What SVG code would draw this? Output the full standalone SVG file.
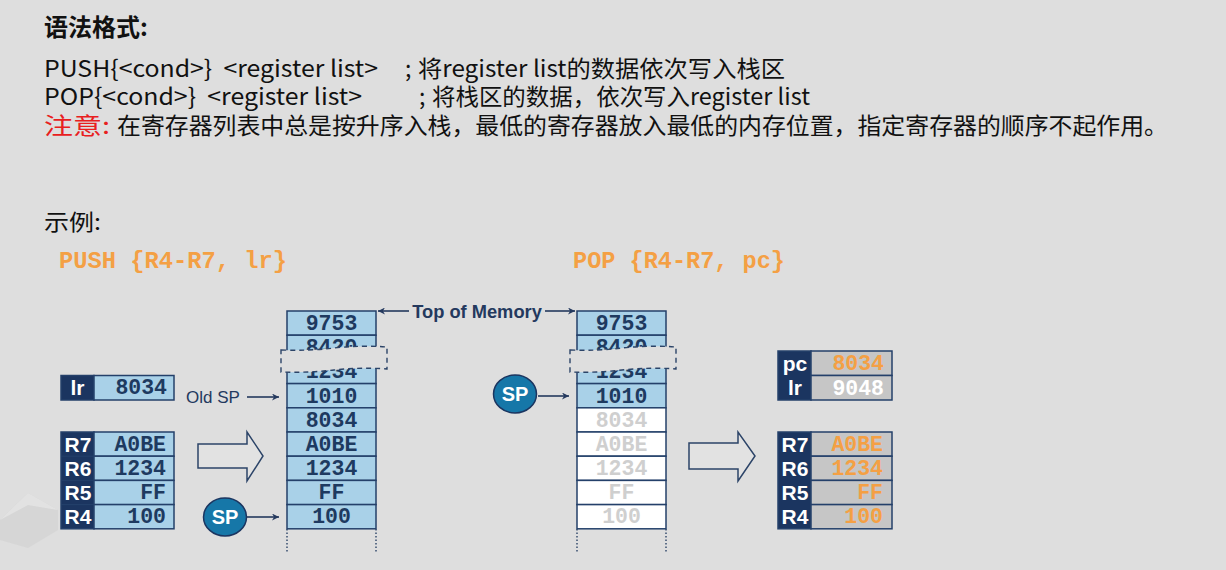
<svg xmlns="http://www.w3.org/2000/svg" width="1226" height="570" viewBox="0 0 1226 570">
<style>
.cjk{font-family:"Noto Sans CJK SC","Noto Sans",sans-serif;fill:#111;}
.code{font-family:"Liberation Mono","Courier New",monospace;font-weight:bold;fill:#f4a044;}
.cell{fill:#a9d1e8;stroke:#24406a;stroke-width:1.5;}
.wcell{fill:#ffffff;stroke:#24406a;stroke-width:1.5;}
.gcell{fill:#c6c6c6;stroke:#24406a;stroke-width:1.5;}
.lab{fill:#1b3560;stroke:#24406a;stroke-width:1.5;}
.labt{font-family:"Liberation Sans",Arial,sans-serif;font-weight:bold;font-size:21px;fill:#fff;text-anchor:middle;}
.val{font-family:"Liberation Mono","Courier New",monospace;font-weight:bold;font-size:21.5px;fill:#1e3a60;}
.mid{text-anchor:middle;}
.end{text-anchor:end;}
.faint{fill:#cfcfcf;}
.orange{fill:#f4a044;}
.white{fill:#ffffff;}
.line{stroke:#24395e;stroke-width:1.6;fill:none;}
.brk{fill:#dedede;stroke:#2c4468;stroke-width:1.4;stroke-dasharray:5,4;}
.dot{stroke:#2c4468;stroke-width:1.4;stroke-dasharray:1.5,2;fill:none;}
.sp{fill:#1677a8;stroke:#1b3560;stroke-width:1.5;}
.spt{font-family:"Liberation Sans",Arial,sans-serif;font-weight:bold;font-size:20px;fill:#fff;text-anchor:middle;}
.hollow{fill:#e2e2e2;stroke:#2c4468;stroke-width:1.5;}
.lbl{font-family:"Liberation Sans",Arial,sans-serif;fill:#24395e;}
</style>
<defs>
<marker id="ah" viewBox="0 0 10 10" refX="10" refY="5" markerWidth="9" markerHeight="7" markerUnits="userSpaceOnUse" orient="auto">
<path d="M0,0 L10,5 L0,10 L3,5 Z" fill="#24395e"/>
</marker>
</defs>
<rect width="1226" height="570" fill="#dedede"/>
<g id="decor" opacity="0.6">
<polygon points="0,520 28,493 58,510 58,530 28,548 0,540" fill="#d2d2d2"/>
<polygon points="0,520 28,505 58,510 28,493" fill="#e6e6e6"/>
</g>

<g id="header">
<text class="cjk" x="44" y="36" font-size="24" font-weight="bold">语法格式:</text>
<text class="cjk" x="44" y="77" font-size="23" xml:space="preserve" style="white-space:pre" textLength="334" lengthAdjust="spacingAndGlyphs">PUSH{&lt;cond&gt;}  &lt;register list&gt;</text>
<text class="cjk" x="405" y="77" font-size="23">;</text>
<text class="cjk" x="418" y="77" font-size="23" textLength="367" lengthAdjust="spacingAndGlyphs">将register list的数据依次写入栈区</text>
<text class="cjk" x="44" y="105" font-size="23" xml:space="preserve" style="white-space:pre" textLength="318" lengthAdjust="spacingAndGlyphs">POP{&lt;cond&gt;}  &lt;register list&gt;</text>
<text class="cjk" x="419" y="105" font-size="23">;</text>
<text class="cjk" x="432" y="105" font-size="23" textLength="378" lengthAdjust="spacingAndGlyphs">将栈区的数据，依次写入register list</text>
<text class="cjk" x="44" y="134" font-size="23" style="fill:#e8201e" textLength="66" lengthAdjust="spacingAndGlyphs">注意:</text>
<text class="cjk" x="117" y="134" font-size="23" textLength="1051" lengthAdjust="spacingAndGlyphs">在寄存器列表中总是按升序入栈，最低的寄存器放入最低的内存位置，指定寄存器的顺序不起作用。</text>
<text class="cjk" x="44" y="230" font-size="22" textLength="57" lengthAdjust="spacingAndGlyphs">示例:</text>
<text class="code" x="59" y="268" font-size="23" textLength="228" lengthAdjust="spacingAndGlyphs">PUSH {R4-R7, lr}</text>
<text class="code" x="573" y="268" font-size="23" textLength="212" lengthAdjust="spacingAndGlyphs">POP {R4-R7, pc}</text>
</g>

<g id="push-lr">
<rect class="lab" x="61" y="375.5" width="33" height="24.5"/>
<rect class="cell" x="94" y="375.5" width="80" height="24.5"/>
<text class="labt" x="77.5" y="395">lr</text>
<text class="val end" x="167" y="394">8034</text>
</g>

<g id="push-regs">
<rect class="lab" x="61" y="432" width="33" height="96.8"/>
<rect class="cell" x="94" y="432" width="80" height="24.2"/>
<rect class="cell" x="94" y="456.2" width="80" height="24.2"/>
<rect class="cell" x="94" y="480.4" width="80" height="24.2"/>
<rect class="cell" x="94" y="504.6" width="80" height="24.2"/>
<line x1="61" y1="456.2" x2="94" y2="456.2" stroke="#24406a" stroke-width="1"/>
<line x1="61" y1="480.4" x2="94" y2="480.4" stroke="#24406a" stroke-width="1"/>
<line x1="61" y1="504.6" x2="94" y2="504.6" stroke="#24406a" stroke-width="1"/>
<text class="labt" x="78" y="451.5">R7</text>
<text class="labt" x="78" y="475.7">R6</text>
<text class="labt" x="78" y="499.9">R5</text>
<text class="labt" x="78" y="524.1">R4</text>
<text class="val end" x="166" y="451">A0BE</text>
<text class="val end" x="166" y="475">1234</text>
<text class="val end" x="166" y="499">FF</text>
<text class="val end" x="166" y="523">100</text>
</g>

<g id="arrow-push">
<polygon class="hollow" points="198,444 247,444 247,432 263,456 247,481 247,468 198,468"/>
</g>

<g id="stack-push">
<rect class="cell" x="287" y="311" width="89" height="24.2"/>
<rect class="cell" x="287" y="335.2" width="89" height="24.2"/>
<rect class="cell" x="287" y="359.4" width="89" height="24.2"/>
<rect class="cell" x="287" y="383.6" width="89" height="24.2"/>
<rect class="cell" x="287" y="407.8" width="89" height="24.2"/>
<rect class="cell" x="287" y="432" width="89" height="24.2"/>
<rect class="cell" x="287" y="456.2" width="89" height="24.2"/>
<rect class="cell" x="287" y="480.4" width="89" height="24.2"/>
<rect class="cell" x="287" y="504.6" width="89" height="24.2"/>
<text class="val mid" x="331.5" y="330">9753</text>
<text class="val mid" x="331.5" y="354">8420</text>
<text class="val mid" x="331.5" y="378">1234</text>
<text class="val mid" x="331.5" y="402.5">1010</text>
<text class="val mid" x="331.5" y="426.5">8034</text>
<text class="val mid" x="331.5" y="450.5">A0BE</text>
<text class="val mid" x="331.5" y="475">1234</text>
<text class="val mid" x="331.5" y="499">FF</text>
<text class="val mid" x="331.5" y="523">100</text>
<path class="brk" d="M281,350 Q310,351 334,348 Q362,345 387,347 L387,369 Q360,367 334,370 Q308,373 281,372 Z"/>
<line class="dot" x1="287" y1="529" x2="287" y2="552"/>
<line class="dot" x1="376" y1="529" x2="376" y2="552"/>
</g>

<g id="stack-pop">
<rect class="cell" x="577" y="311" width="89" height="24.2"/>
<rect class="cell" x="577" y="335.2" width="89" height="24.2"/>
<rect class="cell" x="577" y="359.4" width="89" height="24.2"/>
<rect class="cell" x="577" y="383.6" width="89" height="24.2"/>
<rect class="wcell" x="577" y="407.8" width="89" height="24.2"/>
<rect class="wcell" x="577" y="432" width="89" height="24.2"/>
<rect class="wcell" x="577" y="456.2" width="89" height="24.2"/>
<rect class="wcell" x="577" y="480.4" width="89" height="24.2"/>
<rect class="wcell" x="577" y="504.6" width="89" height="24.2"/>
<text class="val mid" x="621.5" y="330">9753</text>
<text class="val mid" x="621.5" y="354">8420</text>
<text class="val mid" x="621.5" y="378">1234</text>
<text class="val mid" x="621.5" y="402.5">1010</text>
<text class="val mid faint" x="621.5" y="426.5">8034</text>
<text class="val mid faint" x="621.5" y="450.5">A0BE</text>
<text class="val mid faint" x="621.5" y="475">1234</text>
<text class="val mid faint" x="621.5" y="499">FF</text>
<text class="val mid faint" x="621.5" y="523">100</text>
<path class="brk" d="M570,350 Q600,351 622,348 Q650,345 676,347 L676,369 Q650,367 622,370 Q596,373 570,372 Z"/>
<line class="dot" x1="577" y1="529" x2="577" y2="552"/>
<line class="dot" x1="666" y1="529" x2="666" y2="552"/>
</g>

<g id="sp-push">
<ellipse class="sp" cx="225" cy="517" rx="21.5" ry="19"/>
<text class="spt" x="225" y="524">SP</text>
</g>

<g id="sp-pop">
<ellipse class="sp" cx="515" cy="394" rx="21.5" ry="19"/>
<text class="spt" x="515" y="401">SP</text>
</g>

<g id="old-sp">
<text class="lbl" x="186" y="403" font-size="17">Old SP</text>
</g>

<g id="top-of-memory">
<text class="lbl" x="477" y="318" font-size="18.3" font-weight="bold" text-anchor="middle">Top of Memory</text>
</g>

<g id="arrow-pop">
<polygon class="hollow" points="689,443 738,443 738,432 755,456 738,481 738,469 689,469"/>
</g>

<g id="pop-pclr">
<rect class="lab" x="778" y="351" width="33" height="49"/>
<rect class="gcell" x="811" y="351" width="81" height="24.5"/>
<rect class="gcell" x="811" y="375.5" width="81" height="24.5"/>
<text class="labt" x="795" y="371">pc</text>
<text class="labt" x="795" y="395">lr</text>
<text class="val end orange" x="884" y="370">8034</text>
<text class="val end white" x="884" y="394.5">9048</text>
</g>

<g id="pop-regs">
<rect class="lab" x="778" y="432" width="33" height="96.8"/>
<rect class="gcell" x="811" y="432" width="81" height="24.2"/>
<rect class="gcell" x="811" y="456.2" width="81" height="24.2"/>
<rect class="gcell" x="811" y="480.4" width="81" height="24.2"/>
<rect class="gcell" x="811" y="504.6" width="81" height="24.2"/>
<text class="labt" x="795" y="451.5">R7</text>
<text class="labt" x="795" y="475.7">R6</text>
<text class="labt" x="795" y="499.9">R5</text>
<text class="labt" x="795" y="524.1">R4</text>
<text class="val end orange" x="883" y="451">A0BE</text>
<text class="val end orange" x="883" y="475">1234</text>
<text class="val end orange" x="883" y="499">FF</text>
<text class="val end orange" x="883" y="523">100</text>
</g>

<g id="connectors">
<line class="line" x1="247" y1="397" x2="279" y2="397" marker-end="url(#ah)"/>
<line class="line" x1="247" y1="517" x2="279" y2="517" marker-end="url(#ah)"/>
<line class="line" x1="409" y1="311" x2="378" y2="311" marker-end="url(#ah)"/>
<line class="line" x1="545" y1="311" x2="575" y2="311" marker-end="url(#ah)"/>
<line class="line" x1="538" y1="396" x2="569" y2="396" marker-end="url(#ah)"/>
</g>
</svg>
